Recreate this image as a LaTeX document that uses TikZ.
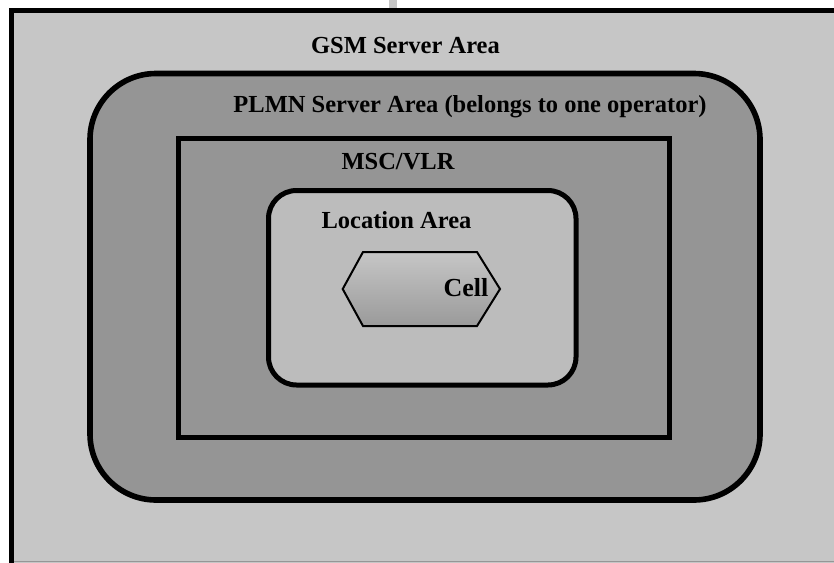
\documentclass[tikz,border=0pt]{standalone}
\usepackage{fontspec}
\setmainfont{Liberation Serif}
\definecolor{gsmfill}{RGB}{198,198,198}
\definecolor{plmnfill}{RGB}{149,149,149}
\definecolor{lafill}{RGB}{188,188,188}
\definecolor{celltop}{RGB}{198,198,198}
\definecolor{cellbot}{RGB}{154,154,154}
\definecolor{edgegrey}{RGB}{150,150,150}
\tikzset{
  areabox/.style={draw=black, line width=5.2pt},
  arealabel/.style={anchor=base, inner sep=0pt, font=\fontsize{24.5}{28}\selectfont\bfseries},
}
\begin{document}
\begin{tikzpicture}[x=1pt,y=-1pt]
\useasboundingbox (0,0) rectangle (834,562);
\clip (0,0) rectangle (834,562);
\fill[white] (0,0) rectangle (834,562);
% small tab above the outer frame
\fill[gsmfill] (389,0) rectangle (397,9);
% GSM server area (runs past the right and bottom edges)
\path[areabox, fill=gsmfill] (11.5,10.5) rectangle (850,580);
\draw[edgegrey, line width=1.2pt] (14,561.4) -- (834,561.4);
% PLMN server area
\path[areabox, line width=5.6pt, fill=plmnfill, rounded corners=66pt] (90,73.5) rectangle (760,500);
% MSC/VLR
\path[areabox, line width=5pt, fill=plmnfill] (178.5,138.5) rectangle (669.5,437.5);
% location area
\path[areabox, line width=5pt, fill=lafill, rounded corners=28pt] (268.5,190.5) rectangle (576,385);
% cell
\shade[top color=celltop, bottom color=cellbot]
  (342.7,289) -- (363,252) -- (477,252) -- (500,289) -- (477,326) -- (363,326) -- cycle;
\draw[line width=2pt, line join=miter]
  (342.7,289) -- (363,252) -- (477,252) -- (500,289) -- (477,326) -- (363,326) -- cycle;
% labels
\node[arealabel] (gsm) at (405.5,53.3) {GSM Server Area};
\node[arealabel] (plmn) at (470,112) {PLMN Server Area (belongs to one operator)};
\node[arealabel] (msc) at (398,169) {MSC/VLR};
\node[arealabel] (la) at (396.5,228) {Location Area};
\node[arealabel, font=\fontsize{26}{30}\selectfont\bfseries] (cell) at (466,296) {Cell};
\end{tikzpicture}
\end{document}
